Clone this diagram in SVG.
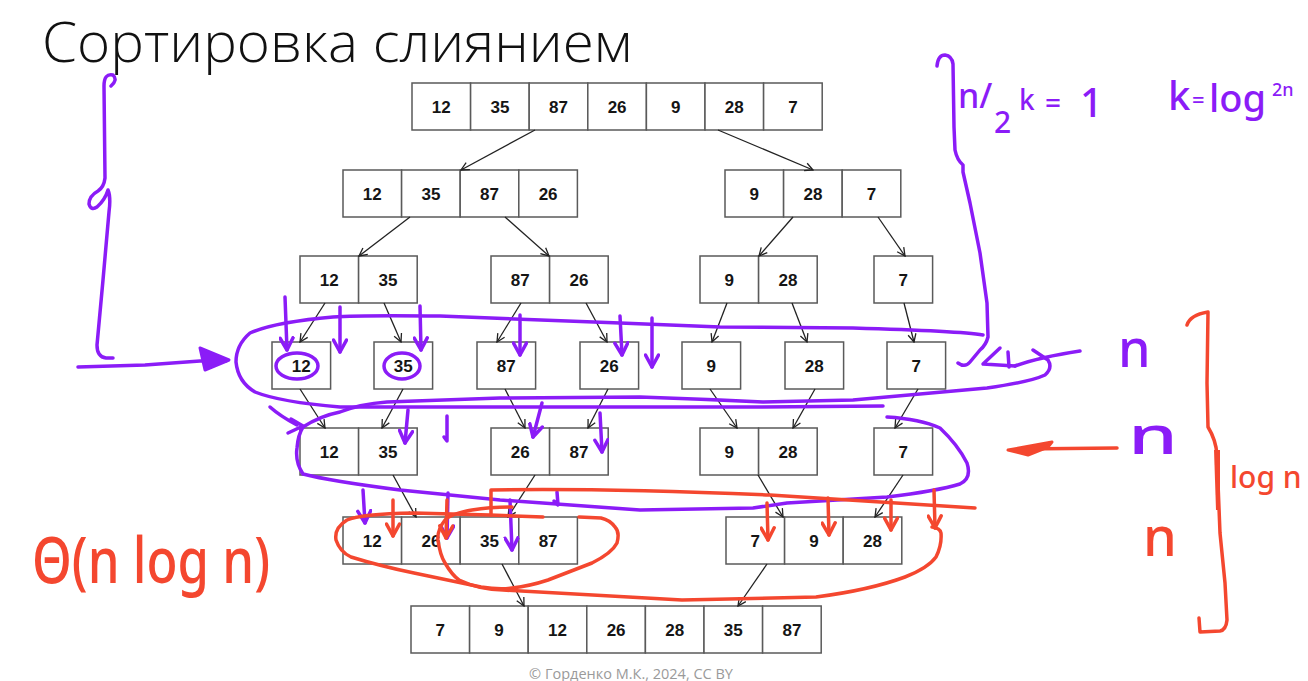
<svg xmlns="http://www.w3.org/2000/svg" width="1308" height="681" viewBox="0 0 1308 681">
<style>
.c{fill:#fff;stroke:#5a5a5a;stroke-width:1.5}
.n{font-family:"Liberation Sans",Arial,sans-serif;font-weight:bold;font-size:17px;text-anchor:middle;fill:#151515}
.a{stroke:#222;stroke-width:1.3;fill:none;marker-end:url(#ah)}
.p{stroke:#8B1CF7;stroke-width:3.5;fill:none;stroke-linecap:round;stroke-linejoin:round}
.pa{stroke:#8B1CF7;stroke-width:3.5;fill:none;stroke-linecap:round;marker-end:url(#pv)}
.r{stroke:#F4472F;stroke-width:3.5;fill:none;stroke-linecap:round;stroke-linejoin:round}
.ra{stroke:#F4472F;stroke-width:3.5;fill:none;stroke-linecap:round;marker-end:url(#rv)}
.hp{fill:#8B1CF7;font-family:"Noto Sans","DejaVu Sans",sans-serif;font-weight:500}
.hr{fill:#F4472F;font-family:"Noto Sans","DejaVu Sans",sans-serif;font-weight:500}
</style>
<defs>
<marker id="ah" viewBox="0 0 10 10" refX="9" refY="5" markerWidth="10" markerHeight="10" markerUnits="userSpaceOnUse" orient="auto"><path d="M1,1 L9,5 L1,9" fill="none" stroke="#222" stroke-width="1.3"/></marker>
<marker id="pv" viewBox="0 0 16 16" refX="14" refY="8" markerWidth="16" markerHeight="16" markerUnits="userSpaceOnUse" orient="auto"><path d="M2,1.5 L14,8 L2,14.5" fill="none" stroke="#8B1CF7" stroke-width="3.5" stroke-linecap="round" stroke-linejoin="round"/></marker>
<marker id="rv" viewBox="0 0 16 16" refX="14" refY="8" markerWidth="16" markerHeight="16" markerUnits="userSpaceOnUse" orient="auto"><path d="M2,1.5 L14,8 L2,14.5" fill="none" stroke="#F4472F" stroke-width="3.5" stroke-linecap="round" stroke-linejoin="round"/></marker>
</defs>
<rect width="1308" height="681" fill="#fff"/>
<text x="42" y="62" font-family="'Open Sans','Noto Sans',sans-serif" font-weight="300" font-size="55" fill="#111" textLength="590" lengthAdjust="spacingAndGlyphs">Сортировка слиянием</text>

<g id="row1">
<rect class="c" x="412" y="83" width="58.6" height="47"/><rect class="c" x="470.6" y="83" width="58.6" height="47"/><rect class="c" x="529.2" y="83" width="58.6" height="47"/><rect class="c" x="587.8" y="83" width="58.6" height="47"/><rect class="c" x="646.4" y="83" width="58.6" height="47"/><rect class="c" x="705" y="83" width="58.6" height="47"/><rect class="c" x="763.6" y="83" width="58.6" height="47"/>
<text class="n" y="112.5"><tspan x="441.3">12</tspan><tspan x="499.9">35</tspan><tspan x="558.5">87</tspan><tspan x="617.1">26</tspan><tspan x="675.7">9</tspan><tspan x="734.3">28</tspan><tspan x="792.9">7</tspan></text>
</g>
<g id="row2-left">
<rect class="c" x="343" y="170" width="58.6" height="47"/><rect class="c" x="401.6" y="170" width="58.6" height="47"/><rect class="c" x="460.2" y="170" width="58.6" height="47"/><rect class="c" x="518.8" y="170" width="58.6" height="47"/>
<text class="n" y="199.5"><tspan x="372.3">12</tspan><tspan x="430.9">35</tspan><tspan x="489.5">87</tspan><tspan x="548.1">26</tspan></text>
</g>
<g id="row2-right">
<rect class="c" x="725" y="170" width="58.6" height="47"/><rect class="c" x="783.6" y="170" width="58.6" height="47"/><rect class="c" x="842.2" y="170" width="58.6" height="47"/>
<text class="n" y="199.5"><tspan x="754.3">9</tspan><tspan x="812.9">28</tspan><tspan x="871.5">7</tspan></text>
</g>
<g id="row3-a"><rect class="c" x="300" y="256" width="58.6" height="47"/><rect class="c" x="358.6" y="256" width="58.6" height="47"/><text class="n" y="285.5"><tspan x="329.3">12</tspan><tspan x="387.9">35</tspan></text></g>
<g id="row3-b"><rect class="c" x="491" y="256" width="58.6" height="47"/><rect class="c" x="549.6" y="256" width="58.6" height="47"/><text class="n" y="285.5"><tspan x="520.3">87</tspan><tspan x="578.9">26</tspan></text></g>
<g id="row3-c"><rect class="c" x="700" y="256" width="58.6" height="47"/><rect class="c" x="758.6" y="256" width="58.6" height="47"/><text class="n" y="285.5"><tspan x="729.3">9</tspan><tspan x="787.9">28</tspan></text></g>
<g id="row3-d"><rect class="c" x="874" y="256" width="58.6" height="47"/><text class="n" x="903.3" y="285.5">7</text></g>

<g id="row4-12"><rect class="c" x="272" y="342" width="58.6" height="47"/><text class="n" x="301.3" y="371.5">12</text></g>
<g id="row4-35"><rect class="c" x="374" y="342" width="58.6" height="47"/><text class="n" x="403.3" y="371.5">35</text></g>
<g id="row4-87"><rect class="c" x="477" y="342" width="58.6" height="47"/><text class="n" x="506.3" y="371.5">87</text></g>
<g id="row4-26"><rect class="c" x="580" y="342" width="58.6" height="47"/><text class="n" x="609.3" y="371.5">26</text></g>
<g id="row4-9"><rect class="c" x="682" y="342" width="58.6" height="47"/><text class="n" x="711.3" y="371.5">9</text></g>
<g id="row4-28"><rect class="c" x="785" y="342" width="58.6" height="47"/><text class="n" x="814.3" y="371.5">28</text></g>
<g id="row4-7"><rect class="c" x="887" y="342" width="58.6" height="47"/><text class="n" x="916.3" y="371.5">7</text></g>

<g id="row5-a"><rect class="c" x="300" y="428" width="58.6" height="47"/><rect class="c" x="358.6" y="428" width="58.6" height="47"/><text class="n" y="457.5"><tspan x="329.3">12</tspan><tspan x="387.9">35</tspan></text></g>
<g id="row5-b"><rect class="c" x="491" y="428" width="58.6" height="47"/><rect class="c" x="549.6" y="428" width="58.6" height="47"/><text class="n" y="457.5"><tspan x="520.3">26</tspan><tspan x="578.9">87</tspan></text></g>
<g id="row5-c"><rect class="c" x="700" y="428" width="58.6" height="47"/><rect class="c" x="758.6" y="428" width="58.6" height="47"/><text class="n" y="457.5"><tspan x="729.3">9</tspan><tspan x="787.9">28</tspan></text></g>
<g id="row5-d"><rect class="c" x="874" y="428" width="58.6" height="47"/><text class="n" x="903.3" y="457.5">7</text></g>

<g id="row6-left">
<rect class="c" x="343" y="517" width="58.6" height="47"/><rect class="c" x="401.6" y="517" width="58.6" height="47"/><rect class="c" x="460.2" y="517" width="58.6" height="47"/><rect class="c" x="518.8" y="517" width="58.6" height="47"/>
<text class="n" x="372.3" y="546.5">12</text><text class="n" x="430.9" y="546.5">26</text><text class="n" x="489.5" y="546.5">35</text><text class="n" x="548.1" y="546.5">87</text>
</g>
<g id="row6-right">
<rect class="c" x="726" y="517" width="58.6" height="47"/><rect class="c" x="784.6" y="517" width="58.6" height="47"/><rect class="c" x="843.2" y="517" width="58.6" height="47"/>
<text class="n" y="546.5"><tspan x="755.3">7</tspan><tspan x="813.9">9</tspan><tspan x="872.5">28</tspan></text>
</g>
<g id="row7">
<rect class="c" x="411" y="606" width="58.6" height="47"/><rect class="c" x="469.6" y="606" width="58.6" height="47"/><rect class="c" x="528.2" y="606" width="58.6" height="47"/><rect class="c" x="586.8" y="606" width="58.6" height="47"/><rect class="c" x="645.4" y="606" width="58.6" height="47"/><rect class="c" x="704" y="606" width="58.6" height="47"/><rect class="c" x="762.6" y="606" width="58.6" height="47"/>
<text class="n" y="635.5"><tspan x="440.3">7</tspan><tspan x="498.9">9</tspan><tspan x="557.5">12</tspan><tspan x="616.1">26</tspan><tspan x="674.7">28</tspan><tspan x="733.3">35</tspan><tspan x="791.9">87</tspan></text>
</g>

<g id="connectors">
<path class="a" d="M535,130 L461,170"/>
<path class="a" d="M718,130 L813,170"/>
<path class="a" d="M410,217 L359,256"/>
<path class="a" d="M505,217 L549,256"/>
<path class="a" d="M793,217 L759,256"/>
<path class="a" d="M878,217 L905,256"/>
<path class="a" d="M325,303 L300,342"/>
<path class="a" d="M384,303 L401,342"/>
<path class="a" d="M521,303 L497,342"/>
<path class="a" d="M586,303 L607,342"/>
<path class="a" d="M727,303 L712,342"/>
<path class="a" d="M792,303 L807,342"/>
<path class="a" d="M904,303 L914,342"/>
<path class="a" d="M300,389 L325,428"/>
<path class="a" d="M403,389 L382,428"/>
<path class="a" d="M505,389 L525,428"/>
<path class="a" d="M608,389 L588,428"/>
<path class="a" d="M710,389 L737,428"/>
<path class="a" d="M815,389 L793,428"/>
<path class="a" d="M918,389 L895,428"/>
<path class="a" d="M393,475 L416,517"/>
<path class="a" d="M535,475 L508,517"/>
<path class="a" d="M758,475 L783,517"/>
<path class="a" d="M903,475 L875,517"/>
<path class="a" d="M502,564 L524,606"/>
<path class="a" d="M767,564 L738,606"/>
</g>

<g id="purple-ink">
<path class="p" d="M111,86 Q118,80 113,75 Q104,73 104,86 L105,178 Q104,187 98,191 Q89,196 89,204 Q91,211 97,207 Q105,200 108,190 Q111,197 109,212 L103,280 L97,345 Q97,357 106,358 L113,358"/>
<path class="p" d="M78,367 L145,365 L200,361 L226,361"/>
<path d="M200,348 L229,360 L205,370 Z" fill="#8B1CF7" stroke="#8B1CF7" stroke-width="3" stroke-linejoin="round"/>
<path class="p" d="M983,335 Q960,331 853,328 L720,327 L620,323 L440,316 Q360,315 333,317 Q275,322 250,333 Q236,345 236,362 Q238,382 255,392 Q280,402 340,407 L640,407 L753,407 L883,406"/>
<path class="p" d="M303,427 Q320,416 340,412 Q360,404 387,402 L500,398 L640,397 Q700,399 763,402 L853,400 L987,388 Q1030,382 1045,375 Q1053,368 1048,360 L1033,350"/>
<path class="p" d="M887,417 Q920,419 940,428 Q958,445 967,463 Q972,478 960,484 Q937,491 887,497 L787,503 L753,508 L640,510 L500,500 L400,490 Q330,481 303,474 Q295,462 297,448 Q298,435 303,427"/>
<path class="p" d="M270,407 Q280,416 297,425"/>
<path class="p" d="M291,419 L303,426 L288,433"/>
<path class="p" d="M937,66 Q938,55 945,55 Q952,56 953,64 L954,127 L955,150 Q957,160 963,165 L963,172 L970,203 L980,253 L987,303 L988,337 Q986,345 980,350 L970,362 Q965,368 958,363"/>
<path class="p" d="M1000,348 L983,364 L1015,366"/>
<path class="p" d="M1008,352 L1009,367"/>
<path class="p" d="M1015,366 Q1040,357 1080,351"/>
<ellipse class="p" cx="297" cy="366" rx="21" ry="13"/>
<ellipse class="p" cx="402" cy="366" rx="18" ry="13"/>
<path class="pa" d="M285,297 L287,350"/>
<path class="pa" d="M340,307 L340,352"/>
<path class="pa" d="M420,306 L421,350"/>
<path class="pa" d="M520,315 L520,355"/>
<path class="pa" d="M620,316 L622,355"/>
<path class="pa" d="M652,318 L652,367"/>
<path class="pa" d="M408,410 L405,443"/>
<path class="p" d="M447,416 L447,441 L444,437"/>
<path class="pa" d="M542,403 L533,437"/>
<path class="pa" d="M600,413 L602,452"/>
<path class="pa" d="M363,490 L365,523"/>
<path class="pa" d="M448,493 L447,538"/>
<path class="pa" d="M510,500 L512,550"/>
<path class="p" d="M557,492 L558,505 L554,501"/>
</g>

<g id="red-ink">
<path class="r" d="M491,515 L491,490 Q600,488 770,495 L975,508"/>
<path class="r" d="M543,517 L490,515 L414,513 Q360,514 347,520 Q334,528 336,540 Q340,552 351,557 Q380,566 414,573 L481,587 Q500,590 512,588 Q530,586 548,580 L592,563 Q612,553 617,543 Q620,532 615,527 Q610,520 601,518 L579,517"/>
<path class="r" d="M512,507 Q490,507 472,510 Q450,514 445,520 Q437,530 438,540 Q440,555 445,563 Q452,575 459,580 Q480,590 503,590 L682,600 L816,597 Q870,590 905,577 Q928,568 936,557 Q942,545 941,533 Q940,528 932,527"/>
<path class="ra" d="M393,500 L393,536"/>
<path class="ra" d="M447,500 L446,538"/>
<path class="ra" d="M767,503 L768,540"/>
<path class="ra" d="M828,498 L829,535"/>
<path class="ra" d="M891,500 L891,530"/>
<path class="ra" d="M934,490 L935,528"/>
<path class="r" d="M1117,448 L1020,449"/>
<path d="M1008,450 L1052,442 L1048,447 L1028,455 Z" fill="#F4472F" stroke="#F4472F" stroke-width="3" stroke-linejoin="round"/>
<path class="r" d="M1187,325 Q1190,315 1208,312 L1207,383 L1208,427 Q1216,440 1217,455 L1218,483 L1220,533 L1225,583 L1227,620 Q1226,630 1220,631 L1200,632 L1199,618"/>
<path d="M1214,450 L1220,450 L1220,510 L1216,510 Z" fill="#F4472F"/>
</g>

<g id="handwriting">
<text class="hp" font-size="34"><tspan x="958" y="108">n/</tspan><tspan x="994" y="133" font-size="30">2</tspan><tspan x="1019" y="110" font-size="28">k</tspan><tspan x="1045" y="113" font-size="28">=</tspan><tspan x="1080" y="117" font-size="40">1</tspan></text>
<text class="hp" font-size="40"><tspan x="1168" y="110">k</tspan><tspan x="1192" y="108" font-size="22">=</tspan><tspan x="1209" y="112" font-size="38">log</tspan><tspan x="1272" y="96" font-size="18">2n</tspan></text>
<text class="hp" x="1118" y="367" font-size="52">n</text>
<text class="hp" x="1128" y="454" font-size="52" textLength="50" lengthAdjust="spacingAndGlyphs">n</text>
<text class="hr" x="1143" y="556" font-size="54">n</text>
<text class="hr" x="1230" y="488" font-size="30">log n</text>
<text class="hr" x="32" y="583" font-size="64" textLength="238" lengthAdjust="spacingAndGlyphs">Θ(n log n)</text>
</g>

<text x="631" y="679" font-family="'Open Sans','Noto Sans',sans-serif" font-size="14.5" fill="#9a9a9a" text-anchor="middle">© Горденко М.К., 2024, CC BY</text>
</svg>
